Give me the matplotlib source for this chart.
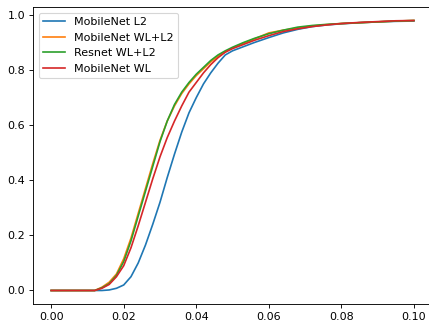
import matplotlib
matplotlib.use("Agg")
import matplotlib.pyplot as plt

x = [0, 0.010, 0.012, 0.014, 0.016, 0.018, 0.020, 0.022, 0.024, 0.026, 0.028,
     0.030, 0.032, 0.034, 0.036, 0.038, 0.040, 0.042, 0.044, 0.046, 0.048,
     0.050, 0.053, 0.056, 0.060, 0.064, 0.068, 0.072, 0.076, 0.080, 0.085,
     0.090, 0.095, 0.100]

mobilenet_l2 = [0, 0, 0, 0, 0.002, 0.008, 0.02, 0.05, 0.10, 0.165, 0.24,
                0.32, 0.41, 0.495, 0.575, 0.645, 0.70, 0.75, 0.79, 0.825, 0.855,
                0.87, 0.885, 0.90, 0.918, 0.935, 0.948, 0.958, 0.964, 0.968, 0.972,
                0.975, 0.977, 0.978]
mobilenet_wl_l2 = [0, 0, 0, 0.012, 0.03, 0.06, 0.115, 0.19, 0.28, 0.37, 0.46,
                   0.545, 0.615, 0.67, 0.715, 0.75, 0.78, 0.805, 0.83, 0.85, 0.866,
                   0.88, 0.897, 0.913, 0.935, 0.945, 0.953, 0.96, 0.965, 0.969, 0.972,
                   0.975, 0.978, 0.98]
resnet_wl_l2 = [0, 0, 0, 0.01, 0.025, 0.055, 0.105, 0.18, 0.27, 0.36, 0.45,
                0.54, 0.615, 0.675, 0.72, 0.755, 0.785, 0.81, 0.835, 0.855, 0.87,
                0.883, 0.9, 0.915, 0.932, 0.945, 0.956, 0.962, 0.966, 0.969, 0.972,
                0.975, 0.978, 0.98]
mobilenet_wl = [0, 0, 0, 0.008, 0.022, 0.05, 0.09, 0.155, 0.235, 0.32, 0.405,
                0.485, 0.555, 0.615, 0.67, 0.72, 0.755, 0.79, 0.82, 0.845, 0.865,
                0.878, 0.893, 0.908, 0.925, 0.94, 0.95, 0.958, 0.964, 0.969, 0.973,
                0.976, 0.979, 0.98]

fig = plt.figure(figsize=(429/80, 326/80), dpi=80)
ax = fig.add_axes([0.077, 0.0675, 0.93, 0.911])

ax.plot(x, mobilenet_l2, label="MobileNet L2")
ax.plot(x, mobilenet_wl_l2, label="MobileNet WL+L2")
ax.plot(x, resnet_wl_l2, label="Resnet WL+L2")
ax.plot(x, mobilenet_wl, label="MobileNet WL")
ax.legend(loc="upper left")

fig.savefig("out.png", dpi=80)
